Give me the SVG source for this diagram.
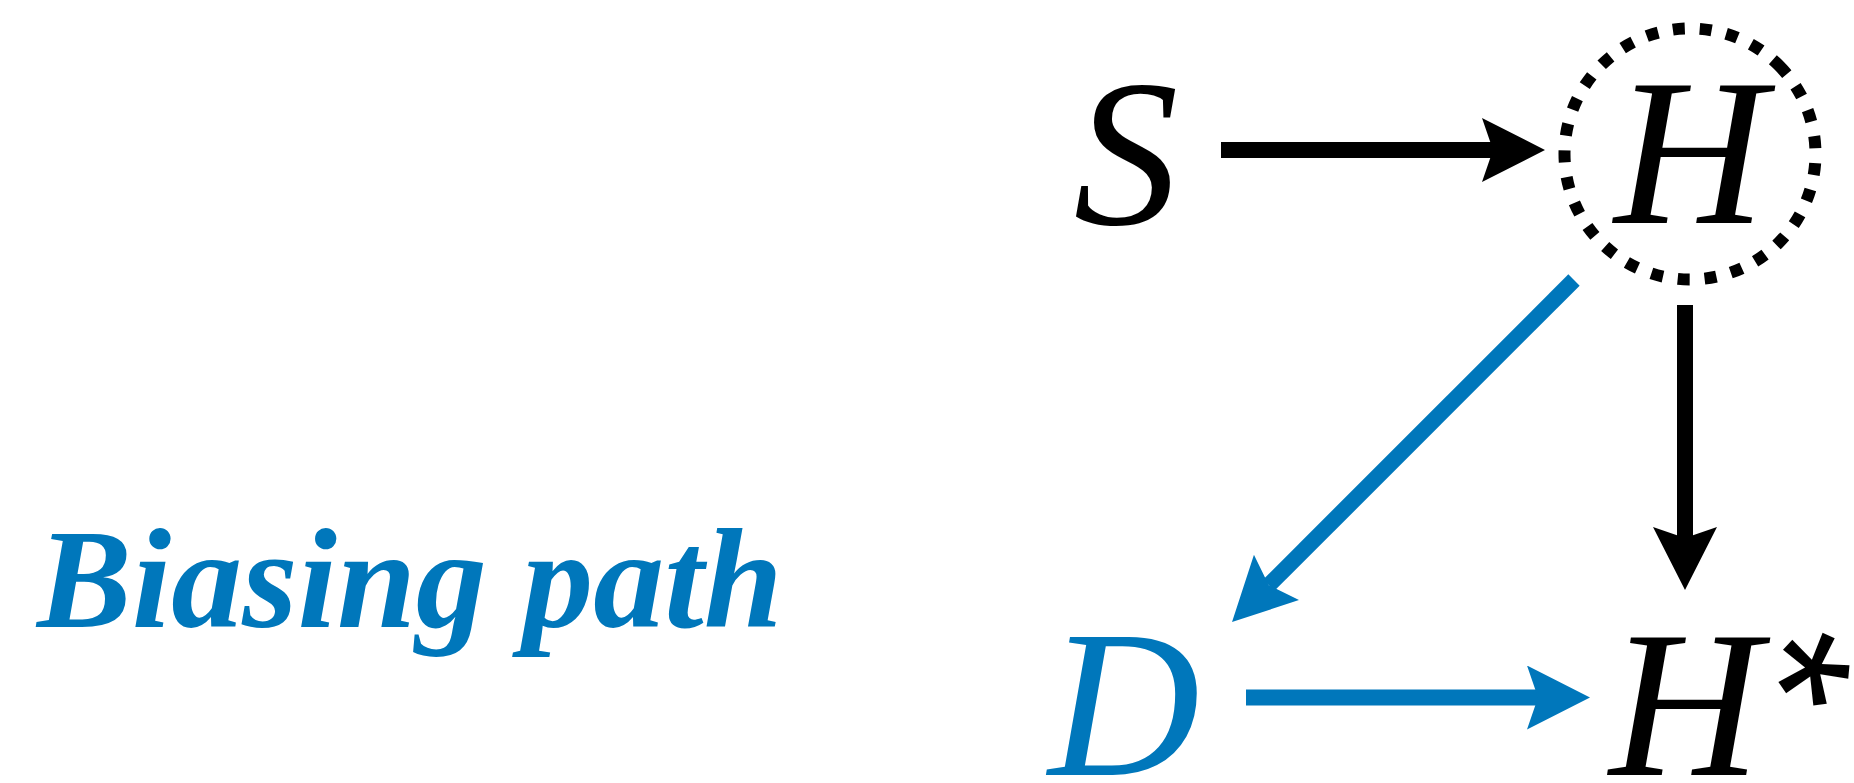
<svg xmlns="http://www.w3.org/2000/svg" width="1854" height="783" viewBox="0 0 1854 783">
<style>
.lbl{font-family:"Liberation Serif","Times New Roman",serif;font-style:italic;font-size:210px}
.blk{fill:#000}
.blu{fill:#0077BB}
.edge{fill:none;stroke-width:16;stroke-linecap:butt}
</style>
<defs>
<marker id="ahK" markerUnits="userSpaceOnUse" markerWidth="63" markerHeight="64" viewBox="-63 -32 63 64" refX="-52" refY="0" orient="auto">
<path d="M0,0 L-63,-32 L-52,0 L-63,32 Z" fill="#000"/>
</marker>
<marker id="ahB" markerUnits="userSpaceOnUse" markerWidth="63" markerHeight="64" viewBox="-63 -32 63 64" refX="-52" refY="0" orient="auto">
<path d="M0,0 L-63,-32 L-52,0 L-63,32 Z" fill="#0077BB"/>
</marker>
</defs>
<rect width="1854" height="783" fill="#fff"/>
<g id="connectors">
<line class="edge" x1="1221" y1="150" x2="1493" y2="150" stroke="#000" marker-end="url(#ahK)"/>
<line class="edge" x1="1685" y1="305" x2="1685" y2="538" stroke="#000" marker-end="url(#ahK)"/>
<line class="edge" x1="1574" y1="280" x2="1268.8" y2="585.2" stroke="#0077BB" marker-end="url(#ahB)"/>
<line class="edge" x1="1246" y1="697.5" x2="1538" y2="697.5" stroke="#0077BB" marker-end="url(#ahB)"/>
</g>
<g id="node-S">
<text class="lbl blk" x="1126" y="224" text-anchor="middle">S</text>
</g>
<g id="node-H">
<circle cx="1690" cy="154" r="125.5" fill="none" stroke="#000" stroke-width="12" stroke-dasharray="12 14.9" transform="rotate(-45 1690 154)"/>
<text class="lbl blk" x="1690" y="223" text-anchor="middle">H</text>
</g>
<g id="node-D">
<text class="lbl blu" x="1124" y="775" text-anchor="middle">D</text>
</g>
<g id="node-Hstar">
<text class="lbl blk" x="1685" y="775" text-anchor="middle">H</text>
<text x="1815" y="784" text-anchor="middle" transform="translate(4,-13) rotate(24 1815 670)" style="font-family:'Liberation Sans',sans-serif;font-size:200px" fill="#000">*</text>
</g>
<g id="label-biasing">
<text x="37" y="627" style="font-family:'Liberation Serif',serif;font-style:italic;font-weight:bold;font-size:142px" fill="#0077BB">Biasing path</text>
</g>
</svg>
